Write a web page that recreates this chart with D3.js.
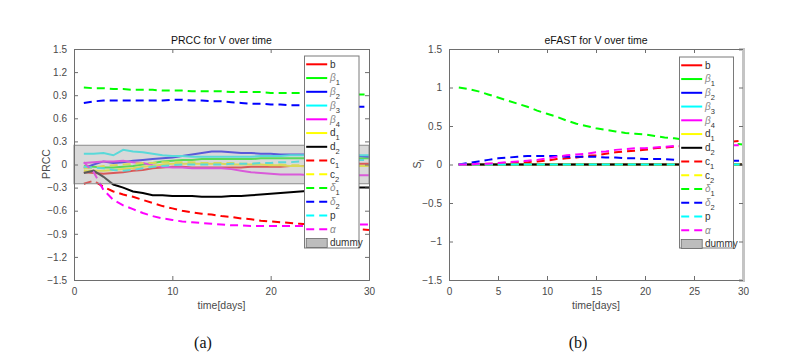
<!DOCTYPE html>
<html>
<head>
<meta charset="utf-8">
<script src="https://cdn.jsdelivr.net/npm/d3@7"></script>
<style>
body { margin: 0; background: #fff; }
text { font-family: "Liberation Sans", Arial, sans-serif; }
</style>
</head>
<body>
<svg id="chart" width="803" height="356"></svg>
<script>
// time points (days)
const days = [1,2,3,4,5,6,7,8,9,10,11,12,13,14,15,16,17,18,19,20,21,22,23,24,25,26,27,28,29,30]

// parameters, in legend order
const params = ["b","beta1","beta2","beta3","beta4","d1","d2","c1","c2","delta1","delta2","p","alpha"]
const labelBase = ["b","β","β","β","β","d","d","c","c","δ","δ","p","α"]
const labelSub = ["","1","2","3","4","1","2","1","2","1","2","",""]
const colors = ["#ff0000","#00ff00","#0000ff","#00ffff","#ff00ff","#ffff00","#000000","#ff0000","#ffff00","#00ff00","#0000ff","#00ffff","#ff00ff"]
const dashed = [false,false,false,false,false,false,false,true,true,true,true,true,true]

// PRCC values over time
const prcc_b      = [-0.10,-0.11,-0.12,-0.11,-0.10,-0.08,-0.07,-0.05,-0.04,-0.03,-0.03,-0.04,-0.04,-0.04,-0.04,-0.04,-0.04,-0.03,-0.03,-0.03,-0.03,-0.02,-0.02,-0.02,-0.01,-0.01,0.00,0.00,0.01,0.01]
const prcc_beta1  = [-0.02,-0.03,-0.04,-0.04,-0.03,-0.02,0.00,0.02,0.04,0.05,0.06,0.06,0.07,0.07,0.07,0.07,0.07,0.07,0.08,0.08,0.08,0.08,0.08,0.08,0.08,0.08,0.08,0.08,0.08,0.08]
const prcc_beta2  = [-0.05,0.00,0.04,0.02,0.03,0.05,0.06,0.07,0.08,0.09,0.11,0.13,0.15,0.17,0.17,0.16,0.15,0.15,0.14,0.14,0.13,0.13,0.13,0.13,0.12,0.12,0.12,0.11,0.11,0.10]
const prcc_beta3  = [0.14,0.14,0.15,0.12,0.19,0.17,0.16,0.14,0.12,0.11,0.11,0.10,0.10,0.10,0.10,0.10,0.10,0.10,0.11,0.11,0.11,0.12,0.12,0.12,0.12,0.12,0.12,0.12,0.12,0.12]
const prcc_beta4  = [0.02,0.03,0.04,0.04,0.05,0.03,0.02,-0.01,-0.03,-0.04,-0.04,-0.05,-0.05,-0.05,-0.05,-0.06,-0.08,-0.10,-0.11,-0.12,-0.13,-0.13,-0.13,-0.14,-0.14,-0.14,-0.14,-0.14,-0.14,-0.14]
const prcc_d1     = [-0.08,-0.08,-0.08,-0.07,-0.06,-0.05,-0.03,-0.02,0.00,0.01,0.01,0.01,0.01,0.01,0.01,0.00,0.00,0.00,0.00,-0.01,-0.01,-0.02,-0.02,-0.03,-0.03,-0.03,-0.03,-0.02,-0.02,-0.02]
const prcc_d2     = [-0.11,-0.08,-0.16,-0.26,-0.30,-0.35,-0.37,-0.40,-0.40,-0.41,-0.41,-0.41,-0.42,-0.42,-0.42,-0.41,-0.41,-0.40,-0.39,-0.38,-0.37,-0.36,-0.35,-0.34,-0.33,-0.32,-0.31,-0.31,-0.30,-0.30]
const prcc_c1     = [-0.25,-0.21,-0.29,-0.35,-0.39,-0.42,-0.46,-0.50,-0.54,-0.57,-0.60,-0.62,-0.64,-0.65,-0.67,-0.68,-0.70,-0.71,-0.73,-0.74,-0.75,-0.76,-0.77,-0.78,-0.79,-0.80,-0.81,-0.82,-0.84,-0.85]
const prcc_c2     = [-0.05,-0.04,-0.02,-0.01,0.00,0.01,0.02,0.02,0.03,0.03,0.03,0.03,0.02,0.02,0.02,0.02,0.01,0.01,0.01,0.00,0.00,-0.01,-0.01,-0.01,-0.02,-0.02,-0.02,-0.02,-0.02,-0.02]
const prcc_delta1 = [1.00,0.99,0.99,0.98,0.98,0.97,0.97,0.97,0.96,0.96,0.96,0.95,0.95,0.95,0.95,0.94,0.94,0.94,0.94,0.93,0.93,0.93,0.93,0.92,0.92,0.92,0.92,0.91,0.91,0.91]
const prcc_delta2 = [0.80,0.82,0.83,0.83,0.83,0.83,0.83,0.83,0.83,0.84,0.84,0.83,0.83,0.82,0.82,0.81,0.80,0.79,0.79,0.78,0.78,0.77,0.77,0.77,0.76,0.76,0.76,0.75,0.75,0.75]
const prcc_p      = [-0.03,-0.04,-0.05,-0.07,-0.08,-0.07,-0.05,-0.03,-0.02,-0.01,0.00,0.00,0.00,0.00,0.00,0.01,0.01,0.01,0.02,0.02,0.03,0.03,0.04,0.05,0.05,0.05,0.06,0.06,0.06,0.06]
const prcc_alpha  = [0.03,-0.10,-0.33,-0.46,-0.53,-0.58,-0.63,-0.67,-0.70,-0.72,-0.74,-0.75,-0.76,-0.77,-0.78,-0.79,-0.79,-0.80,-0.80,-0.80,-0.80,-0.80,-0.80,-0.80,-0.79,-0.79,-0.79,-0.78,-0.78,-0.78]

// eFAST first order indices over time
const efast_b      = [0.00,0.00,0.00,0.00,0.00,0.00,0.00,0.00,0.00,0.00,0.00,0.00,0.00,0.00,0.00,0.00,0.00,0.00,0.00,0.00,0.00,0.00,0.00,0.00,0.00,0.00,0.00,0.00,0.00,0.00]
const efast_beta1  = [0.00,0.00,0.00,0.00,0.00,0.00,0.00,0.00,0.00,0.00,0.00,0.00,0.00,0.00,0.00,0.00,0.00,0.00,0.00,0.00,0.00,0.00,0.00,0.00,0.00,0.00,0.00,0.00,0.00,0.00]
const efast_beta2  = [0.00,0.00,0.00,0.00,0.00,0.00,0.00,0.00,0.00,0.00,0.00,0.00,0.00,0.00,0.00,0.00,0.00,0.00,0.00,0.00,0.00,0.00,0.00,0.00,0.00,0.00,0.00,0.00,0.00,0.00]
const efast_beta3  = [0.00,0.00,0.00,0.00,0.00,0.00,0.00,0.00,0.00,0.00,0.00,0.00,0.00,0.00,0.00,0.00,0.00,0.00,0.00,0.00,0.00,0.00,0.00,0.00,0.00,0.00,0.00,0.00,0.00,0.00]
const efast_beta4  = [0.00,0.00,0.00,0.00,0.00,0.00,0.00,0.00,0.00,0.00,0.00,0.00,0.00,0.00,0.00,0.00,0.00,0.00,0.00,0.00,0.00,0.00,0.00,0.00,0.00,0.00,0.00,0.00,0.00,0.00]
const efast_d1     = [0.00,0.00,0.00,0.00,0.00,0.00,0.00,0.00,0.00,0.00,0.00,0.00,0.00,0.00,0.00,0.00,0.00,0.00,0.00,0.00,0.00,0.00,0.00,0.00,0.00,0.00,0.00,0.00,0.00,0.00]
const efast_d2     = [0.00,0.00,0.00,0.00,0.00,0.00,0.00,0.00,0.00,0.00,0.00,0.00,0.00,0.00,0.00,0.00,0.00,0.00,0.00,0.00,0.00,0.00,0.00,0.00,0.00,0.00,0.00,0.00,0.00,0.00]
const efast_c1     = [0.00,0.00,0.00,0.01,0.01,0.02,0.03,0.03,0.04,0.05,0.07,0.08,0.09,0.11,0.12,0.14,0.16,0.17,0.18,0.19,0.21,0.22,0.23,0.24,0.25,0.26,0.28,0.29,0.30,0.31]
const efast_c2     = [0.00,0.00,0.00,0.00,0.00,0.00,0.00,0.00,0.00,0.00,0.00,0.00,0.00,0.00,0.00,0.00,0.00,0.00,0.00,0.00,0.00,0.00,0.00,0.00,0.00,0.00,0.00,0.00,0.00,0.00]
const efast_delta1 = [1.00,0.98,0.95,0.91,0.87,0.83,0.79,0.75,0.70,0.66,0.62,0.57,0.53,0.50,0.47,0.45,0.43,0.41,0.40,0.39,0.37,0.35,0.34,0.32,0.31,0.30,0.29,0.28,0.27,0.26]
const efast_delta2 = [0.00,0.02,0.04,0.06,0.08,0.09,0.10,0.11,0.11,0.11,0.11,0.10,0.10,0.10,0.10,0.09,0.09,0.08,0.08,0.07,0.07,0.07,0.06,0.06,0.06,0.06,0.05,0.05,0.05,0.05]
const efast_p      = [0.00,0.00,0.00,0.00,0.00,0.00,0.00,0.00,0.00,0.00,0.00,0.00,0.00,0.00,0.00,0.00,0.00,0.00,0.00,0.00,0.00,0.00,0.00,0.00,0.00,0.00,0.00,0.00,0.00,0.00]
const efast_alpha  = [0.00,0.00,0.01,0.01,0.02,0.03,0.04,0.05,0.06,0.08,0.10,0.12,0.13,0.14,0.16,0.17,0.19,0.20,0.21,0.21,0.22,0.23,0.24,0.24,0.25,0.25,0.25,0.25,0.25,0.25]

// tick labels
const prccTicks = [-1.5,-1.2,-0.9,-0.6,-0.3,0,0.3,0.6,0.9,1.2,1.5]
const prccDays = [0,10,20,30]
const efastTicks = [-1.5,-1,-0.5,0,0.5,1,1.5]
const efastDays = [0,5,10,15,20,25,30]
const dummyBand = [-0.25, 0.25]

const prccSeries = [prcc_b,prcc_beta1,prcc_beta2,prcc_beta3,prcc_beta4,prcc_d1,prcc_d2,prcc_c1,prcc_c2,prcc_delta1,prcc_delta2,prcc_p,prcc_alpha]
const efastSeries = [efast_b,efast_beta1,efast_beta2,efast_beta3,efast_beta4,efast_d1,efast_d2,efast_c1,efast_c2,efast_delta1,efast_delta2,efast_p,efast_alpha]

const svg = d3.select("#chart")
const axisColor = "#6e6e6e"
const textColor = "#4a4a4a"

function drawPanel(cfg) {
    let x = d3.scaleLinear().domain([0, 30]).range([cfg.left, cfg.right])
    let y = d3.scaleLinear().domain([-1.5, 1.5]).range([280, 49])
    let g = svg.append("g")

    // lines
    let line = d3.line().x((d, i) => x(days[i])).y(d => y(d))
    cfg.series.forEach(function (vals, i) {
        g.append("path")
            .attr("d", line(vals))
            .attr("fill", "none")
            .attr("stroke", colors[i])
            .attr("stroke-width", 2)
            .attr("stroke-dasharray", dashed[i] ? "8,5" : null)
    })

    // dummy band on top, semi transparent
    if (cfg.band) {
        g.append("rect")
            .attr("x", x(0)).attr("width", x(30) - x(0))
            .attr("y", y(cfg.band[1])).attr("height", y(cfg.band[0]) - y(cfg.band[1]))
            .attr("fill", "#b3b3b3").attr("fill-opacity", 0.5)
            .attr("stroke", "#8a8a8a").attr("stroke-width", 1)
    }

    // axes, MATLAB style box with inward ticks
    let left = d3.axisLeft(y).tickValues(cfg.yTicks).tickSize(-4).tickPadding(7).tickFormat(d3.format("~g"))
    let bottom = d3.axisBottom(x).tickValues(cfg.xTicks).tickSize(-4).tickPadding(8)
    let top = d3.axisTop(x).tickValues(cfg.xTicks).tickSize(-4).tickFormat("")
    let right = d3.axisRight(y).tickValues(cfg.yTicks).tickSize(-4).tickFormat("")

    let ga = g.append("g").attr("transform", "translate(" + x(0) + ",0)").call(left)
    let gb = g.append("g").attr("transform", "translate(0," + y(-1.5) + ")").call(bottom)
    let gt = g.append("g").attr("transform", "translate(0," + y(1.5) + ")").call(top)
    let gr = g.append("g").attr("transform", "translate(" + x(30) + ",0)").call(right)
    ;[ga, gb, gt, gr].forEach(function (a) {
        a.selectAll("path").attr("stroke", axisColor)
        a.selectAll("line").attr("stroke", axisColor)
        a.selectAll("text").attr("fill", textColor).style("font-size", "10px")
    })
    if (cfg.greyRight) {
        gr.select("path").attr("stroke", "#c4c4c4").attr("stroke-width", 3)
    }

    // title and labels
    g.append("text")
        .attr("x", (cfg.left + cfg.right) / 2).attr("y", 44)
        .attr("text-anchor", "middle").style("font-size", "10.5px").attr("fill", "#111")
        .text(cfg.title)
    g.append("text")
        .attr("x", (cfg.left + cfg.right) / 2).attr("y", 309)
        .attr("text-anchor", "middle").style("font-size", "10.5px").attr("fill", textColor)
        .text("time[days]")
    let yl = g.append("text")
        .attr("transform", "translate(" + cfg.ylabelX + ",164) rotate(-90)")
        .attr("text-anchor", "middle").style("font-size", "10.5px").attr("fill", textColor)
    yl.append("tspan").text(cfg.ylabel)
    if (cfg.ylabelSub) {
        yl.append("tspan").attr("dy", 3).style("font-size", "8px").text(cfg.ylabelSub)
    }
    g.append("text")
        .attr("x", cfg.capX).attr("y", 348)
        .attr("text-anchor", "middle")
        .style("font-family", "'Liberation Serif', 'Times New Roman', serif")
        .style("font-size", "16px").attr("fill", "#111")
        .text(cfg.caption)

    // legend
    let lg = g.append("g").attr("transform", "translate(" + cfg.legX + "," + cfg.legY + ")")
    lg.append("rect")
        .attr("width", cfg.legW).attr("height", cfg.legH)
        .attr("fill", "#fff").attr("stroke", "#7a7a7a").attr("stroke-width", 1)
    let step = 13.75
    params.forEach(function (p, i) {
        let yy = 8.3 + i * step
        lg.append("line")
            .attr("x1", 1.7).attr("x2", 22.7).attr("y1", yy).attr("y2", yy)
            .attr("stroke", colors[i]).attr("stroke-width", 2)
            .attr("stroke-dasharray", dashed[i] ? "8,5" : null)
        let t = lg.append("text").attr("x", 25.5).attr("y", yy + 3.2)
            .style("font-size", "10px").attr("fill", "#333")
        let greek = /[βδα]/.test(labelBase[i])
        t.append("tspan").text(labelBase[i])
            .style("font-style", greek ? "italic" : "normal")
            .attr("fill", greek ? "#8a8a8a" : "#333")
        if (labelSub[i]) {
            t.append("tspan").attr("dy", 4).style("font-size", "7.5px").text(labelSub[i])
        }
    })
    let dy = 8.3 + params.length * step
    lg.append("rect")
        .attr("x", 1.7).attr("y", dy - 4.5).attr("width", 21).attr("height", 9)
        .attr("fill", "#bdbdbd").attr("stroke", "#666").attr("stroke-width", 0.8)
    lg.append("text").attr("x", 25.5).attr("y", dy + 3.2)
        .style("font-size", "10px").attr("fill", "#333").text("dummy")
}

drawPanel({
    left: 74, right: 369, series: prccSeries, band: dummyBand,
    yTicks: prccTicks, xTicks: prccDays,
    title: "PRCC for V over time", ylabel: "PRCC", ylabelX: 50,
    caption: "(a)", capX: 203,
    legX: 304.5, legY: 56, legW: 54.5, legH: 192
})

drawPanel({
    left: 449, right: 743, series: efastSeries, band: null, greyRight: true,
    yTicks: efastTicks, xTicks: efastDays,
    title: "eFAST for V over time", ylabel: "S", ylabelSub: "i", ylabelX: 421,
    caption: "(b)", capX: 578,
    legX: 679.5, legY: 57, legW: 54, legH: 191
})
</script>
</body>
</html>
